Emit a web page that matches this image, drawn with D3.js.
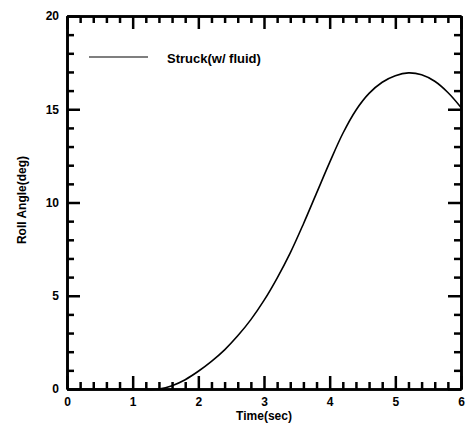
<!DOCTYPE html>
<html>
<head>
<meta charset="utf-8">
<script src="https://cdn.jsdelivr.net/npm/d3@7"></script>
<style>
	body { margin: 0; background: #fff; }
	svg { display: block; }
	text { font-family: "Liberation Sans", Arial, sans-serif; fill: #000; }
</style>
</head>
<body>
<svg id="chart" width="466" height="429"></svg>
<script>
// roll angle
var timeSec = [0, 1.0, 1.4, 1.6, 1.8, 2.0, 2.2, 2.4, 2.6, 2.8, 3.0, 3.2, 3.4, 3.6, 3.8, 4.0, 4.2, 4.4, 4.6, 4.8, 5.0, 5.2, 5.4, 5.6, 5.8, 6.0];
var rollDeg = [0, 0, 0, 0.18, 0.5, 0.95, 1.48, 2.1, 2.85, 3.72, 4.75, 5.95, 7.3, 8.85, 10.5, 12.15, 13.7, 14.95, 15.85, 16.45, 16.8, 16.95, 16.85, 16.5, 15.9, 15.1];
var xTicks = [0, 1, 2, 3, 4, 5, 6];
var yTicks = [0, 5, 10, 15, 20];
var seriesName = "Struck(w/ fluid)";

var svg = d3.select("#chart");
var plotL = 67, plotR = 461, plotT = 16, plotB = 389;

var x = d3.scaleLinear().domain([0, 6]).range([plotL, plotR]);
var y = d3.scaleLinear().domain([0, 20]).range([plotB, plotT]);

var xMinor = d3.range(0, 6.001, 0.2).filter(function(v) { return Math.abs(v - Math.round(v)) > 1e-6; });
var yMinor = d3.range(0, 20.001, 1).filter(function(v) { return v % 5 != 0; });

function styleAxis(g) {
	g.selectAll("path.domain").attr("stroke-width", 2.6).attr("stroke", "#000");
	g.selectAll(".tick line").attr("stroke-width", 2.5).attr("stroke", "#000");
	g.selectAll(".tick text").attr("font-size", 12).attr("font-weight", "bold").attr("font-family", "'Liberation Sans', Arial, sans-serif");
}

function side(axisFn, scale, major, minor, tf, labels) {
	var gm = svg.append("g").attr("transform", tf)
		.call(axisFn(scale).tickValues(minor).tickSizeInner(-7).tickSizeOuter(0).tickFormat(""));
	styleAxis(gm);
	var a = axisFn(scale).tickValues(major).tickSizeInner(-13).tickSizeOuter(0).tickPadding(8)
		.tickFormat(labels ? d3.format("d") : "");
	var g = svg.append("g").attr("transform", tf).call(a);
	styleAxis(g);
	return g;
}

side(d3.axisBottom, x, xTicks, xMinor, "translate(0," + plotB + ")", true);
side(d3.axisTop, x, xTicks, xMinor, "translate(0," + plotT + ")", false);
side(d3.axisLeft, y, yTicks, yMinor, "translate(" + plotL + ",0)", true);
side(d3.axisRight, y, yTicks, yMinor, "translate(" + plotR + ",0)", false);

var line = d3.line()
	.x(function(d, i) { return x(timeSec[i]); })
	.y(function(d) { return y(d); })
	.curve(d3.curveCatmullRom.alpha(0.5));

svg.append("path")
	.datum(rollDeg)
	.attr("fill", "none")
	.attr("stroke", "#000")
	.attr("stroke-width", 1.6)
	.attr("d", line);

// legend
svg.append("line").attr("x1", 89).attr("x2", 148).attr("y1", 57).attr("y2", 57)
	.attr("stroke", "#000").attr("stroke-width", 1.2);
svg.append("text").attr("x", 167).attr("y", 63)
	.attr("font-size", 13).attr("font-weight", "bold").text(seriesName);

// axis titles
svg.append("text").attr("x", (plotL + plotR) / 2).attr("y", 420)
	.attr("text-anchor", "middle").attr("font-size", 12).attr("font-weight", "bold").text("Time(sec)");
svg.append("text").attr("transform", "translate(26,200) rotate(-90)")
	.attr("text-anchor", "middle").attr("font-size", 12).attr("font-weight", "bold").text("Roll Angle(deg)");
</script>
</body>
</html>
